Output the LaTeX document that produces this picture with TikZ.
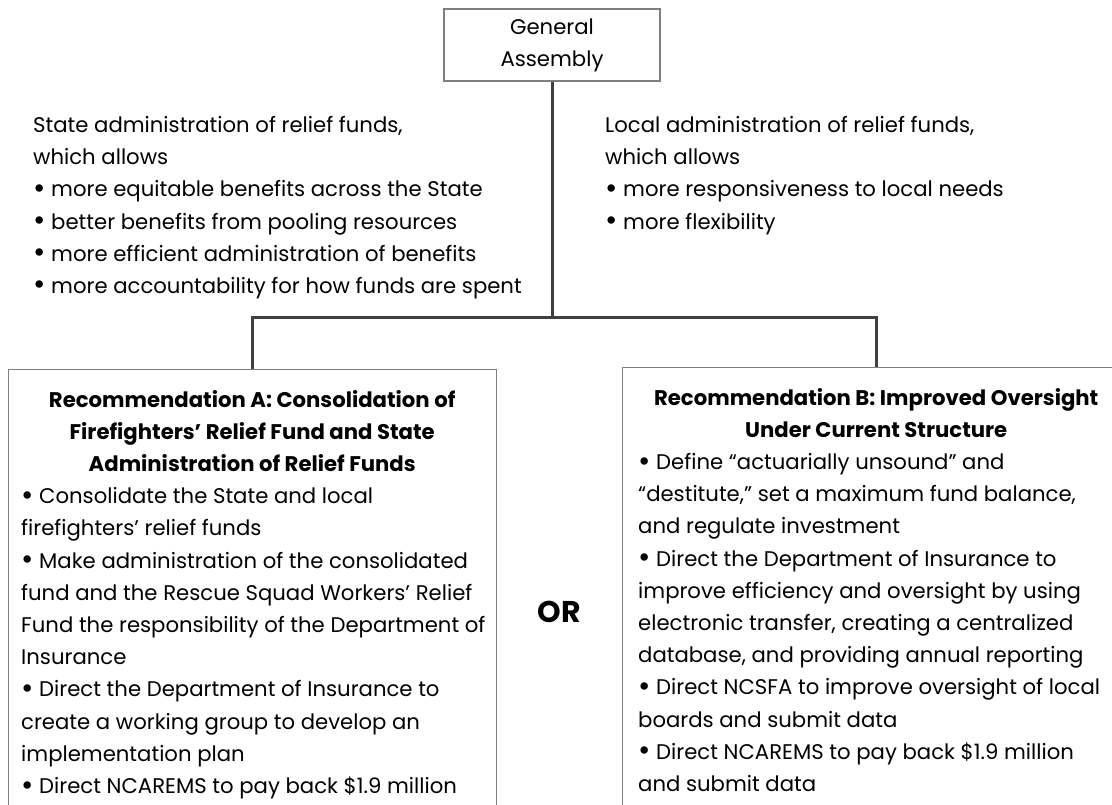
\documentclass[tikz,border=0pt]{standalone}
\usepackage{fontspec}
\setmainfont{Poppins}
\usetikzlibrary{positioning,calc}
\definecolor{boxgray}{HTML}{7F7F7F}
\definecolor{linkgray}{HTML}{404040}
\newcommand{\recfont}{\fontsize{21.2}{32.2}\selectfont}
\newcommand{\rectitle}[2]{\makebox[#1][c]{\bfseries #2}}
\newcommand{\dotitem}{\raisebox{-1.5pt}{\fontsize{30}{30}\selectfont\textbullet}}

\begin{document}
\begin{tikzpicture}[x=1pt,y=-1pt]

    \tikzstyle{box}=[draw=boxgray, line width=1.3pt, rectangle, inner sep=0pt]
    \tikzstyle{txt}=[inner sep=0pt, align=left, font=\recfont]
    \tikzstyle{link}=[draw=linkgray, line width=3pt]

    \useasboundingbox (0,0) rectangle (1112,804);
    \clip (0,0) rectangle (1112,804);

    \node (assembly) at (552,45)[box, minimum width=216, minimum height=72, align=center, font=\recfont]{General\\Assembly};

    % the two ways of administering the funds
    \node (stateAdmin) at (33,116)[txt, anchor=north west]{State administration of relief funds,\\
      which allows\\
      \dotitem{} more equitable benefits across the State\\
      \dotitem{} better benefits from pooling resources\\
      \dotitem{} more efficient administration of benefits\\
      \dotitem{} more accountability for how funds are spent};
    \node (localAdmin) at (605,116)[txt, anchor=north west]{Local administration of relief funds,\\
      which allows\\
      \dotitem{} more responsiveness to local needs\\
      \dotitem{} more flexibility};

    % recommendations
    \node (recA) at (8,369)[box, anchor=north west, minimum width=488, minimum height=470]{};
    \node (recAtext)[txt, below right=21pt and 13pt of recA.north west]{%
      \rectitle{462pt}{Recommendation A: Consolidation of}\\
      \rectitle{462pt}{Firefighters’ Relief Fund and State}\\
      \rectitle{462pt}{Administration of Relief Funds}\\
      \dotitem{} Consolidate the State and local\\
      firefighters’ relief funds\\
      \dotitem{} Make administration of the consolidated\\
      fund and the Rescue Squad Workers’ Relief\\
      Fund the responsibility of the Department of\\
      Insurance\\
      \dotitem{} Direct the Department of Insurance to\\
      create a working group to develop an\\
      implementation plan\\
      \dotitem{} Direct NCAREMS to pay back \$1.9 million};

    \node (recB) at (622,367)[box, anchor=north west, minimum width=508, minimum height=470]{};
    \node (recBtext)[txt, below right=21pt and 16pt of recB.north west]{%
      \rectitle{476pt}{Recommendation B: Improved Oversight}\\
      \rectitle{476pt}{Under Current Structure}\\
      \dotitem{} Define “actuarially unsound” and\\
      “destitute,” set a maximum fund balance,\\
      and regulate investment\\
      \dotitem{} Direct the Department of Insurance to\\
      improve efficiency and oversight by using\\
      electronic transfer, creating a centralized\\
      database, and providing annual reporting\\
      \dotitem{} Direct NCSFA to improve oversight of local\\
      boards and submit data\\
      \dotitem{} Direct NCAREMS to pay back \$1.9 million\\
      and submit data};

    \node (or) at (559,612)[font=\fontsize{30}{36}\selectfont\bfseries]{OR};

    \coordinate (split) at (552,317);
    \draw[link] (assembly) -- (split);
    \draw[link] (recA.north) |- (split) -| (recB.north);

\end{tikzpicture}
\end{document}
